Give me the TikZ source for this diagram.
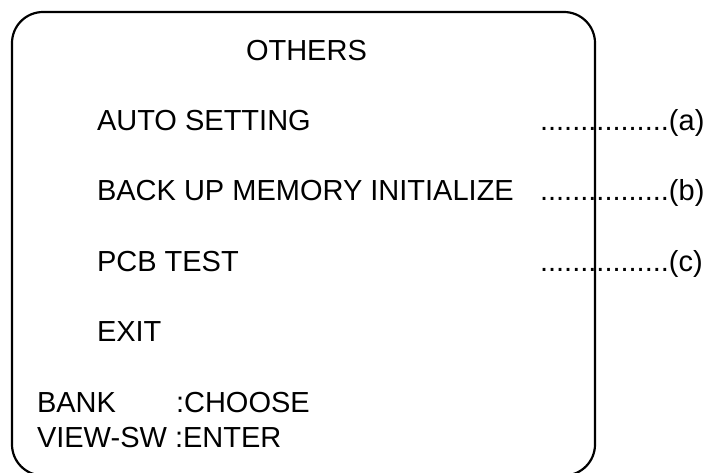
\documentclass[tikz,border=0pt]{standalone}
\usepackage{fontspec}
\setmainfont{Liberation Sans}
\begin{document}
\begin{tikzpicture}[x=1pt,y=-1pt,
  lbl/.style={anchor=base west,inner sep=0pt,outer sep=0pt,font=\fontsize{29}{34}\selectfont},
  frame/.style={draw=black,line width=2.2pt,rounded corners=31pt}]
\useasboundingbox (0,0) rectangle (710,472);
\draw[frame] (12,12) rectangle (595,475.5);
\node[lbl] (title) at (246,60) {OTHERS};
\node[lbl] (auto) at (97,130) {AUTO SETTING};
\node[lbl] (backup) at (97,200) {BACK UP MEMORY INITIALIZE};
\node[lbl] (pcb) at (97,271) {PCB TEST};
\node[lbl] (exit) at (97,341) {EXIT};
\node[lbl] (leada) at (540,130) {................(a)};
\node[lbl] (leadb) at (540,200) {................(b)};
\node[lbl] (leadc) at (540,271) {................(c)};
\node[lbl] (bank) at (37,412.5) {BANK};
\node[lbl] (choose) at (176,412.5) {:CHOOSE};
\node[lbl] (viewsw) at (37,447) {VIEW-SW :ENTER};
\end{tikzpicture}
\end{document}
